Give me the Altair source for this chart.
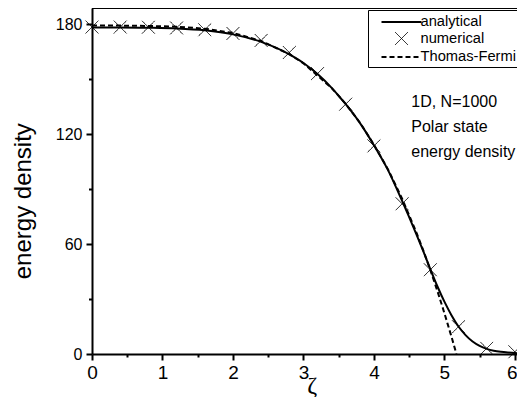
import altair as alt
import pandas as pd

# ---------------- data ----------------
x_ticks = [0, 0.5, 1, 1.5, 2, 2.5, 3, 3.5, 4, 4.5, 5, 5.5, 6]
y_ticks = [0, 30, 60, 90, 120, 150, 180]
x_max = 6.03
y_max = 188.9

series = ["analytical", "numerical", "Thomas-Fermi"]

ana_x = [0, 0.4, 0.8, 1.2, 1.6, 2.0, 2.4, 2.8, 3.0, 3.2, 3.4, 3.6, 3.8, 4.0, 4.2,
         4.4, 4.6, 4.7, 4.8, 4.9, 5.0, 5.1, 5.2, 5.3, 5.4, 5.5, 5.6, 5.7, 5.8, 5.9, 6.0, 6.03]
ana_y = [178.3, 178.3, 178.1, 177.7, 176.7, 174.5, 170.4, 163.6, 158.9, 152.8, 145.3,
         136.4, 126.2, 114.0, 100.4, 83.6, 65.6, 56.2, 46.4, 37.0, 28.6, 21.2, 15.0,
         10.3, 6.8, 4.4, 2.8, 1.8, 1.2, 0.8, 0.5, 0.45]

tf_x = [0, 0.4, 0.8, 1.2, 1.6, 2.0, 2.4, 2.8, 3.0, 3.2, 3.4, 3.6, 3.8, 4.0, 4.2,
        4.4, 4.6, 4.7, 4.8, 4.9, 5.0, 5.05, 5.1, 5.15, 5.17]
tf_y = [179.3, 179.3, 179.1, 178.7, 177.6, 175.3, 170.9, 163.7, 158.7, 152.0, 145.2,
        136.5, 126.4, 114.3, 100.8, 84.8, 66.6, 56.6, 45.9, 34.5, 22.3, 15.9, 9.5,
        2.8, 0.0]

num_x = [0, 0.4, 0.8, 1.2, 1.6, 2.0, 2.4, 2.8, 3.2, 3.6, 4.0, 4.4, 4.8, 5.2, 5.6, 6.0]
num_y = [178.5, 178.5, 178.4, 178.0, 177.0, 175.0, 171.2, 164.6, 153.1, 136.4,
         113.6, 82.0, 46.0, 14.9, 3.1, 1.2]

note_lines = ["1D, N=1000", "Polar state", "energy density"]
note_x = [4.53]
note_y = [134.9]

# ---------------- tables ----------------
ana_df = pd.DataFrame({"x": ana_x, "y": ana_y})
tf_df = pd.DataFrame({"x": tf_x, "y": tf_y})
num_df = pd.DataFrame({"x": num_x, "y": num_y, "series": ["numerical"] * len(num_x)})
note_df = pd.DataFrame({"x": note_x, "y": note_y, "t": ["\n".join(note_lines)]})
frame_df = pd.DataFrame({"x": [0], "x2": [x_max], "y": [y_max]})

FONT = "Liberation Sans"

xs = alt.Scale(domain=[0, x_max], nice=False, zero=False)
ys = alt.Scale(domain=[0, y_max], nice=False, zero=False)

common_axis = dict(
    grid=False, domainColor="black", domainWidth=2, tickColor="black", tickWidth=2,
    labelColor="black", labelFont=FONT, labelOverlap=False, labelFlush=False,
    titleColor="black",
)

x_axis = alt.Axis(
    orient="bottom", values=x_ticks, title="ζ",
    labelExpr="datum.value % 1 === 0 ? format(datum.value, 'd') : ''",
    tickSize={"condition": {"test": "datum.value % 1 === 0", "value": 6}, "value": 3},
    labelOffset={"condition": {"test": "datum.value === 6", "value": -3}, "value": 0},
    labelFontSize=19, labelPadding=3,
    titleFont="Liberation Serif", titleFontSize=24, titleFontWeight="normal",
    titleX=219.7, titleY=38.5, titleAlign="center", titleBaseline="alphabetic",
    **common_axis,
)

y_axis = alt.Axis(
    orient="left", values=y_ticks, title="energy density",
    labelExpr="datum.value % 60 === 0 ? format(datum.value, 'd') : ''",
    tickSize={"condition": {"test": "datum.value % 60 === 0", "value": 6}, "value": 3.5},
    labelFontSize=16, labelPadding=4,
    titleFont=FONT, titleFontSize=24, titleFontWeight="normal",
    titleAngle=270, titleX=-62, titleY=192.7, titleAlign="center",
    titleBaseline="alphabetic",
    **common_axis,
)


def X(field="x"):
    return alt.X(f"{field}:Q", scale=xs, axis=x_axis)


def Y(field="y"):
    return alt.Y(f"{field}:Q", scale=ys, axis=y_axis)


line_a = alt.Chart(ana_df).mark_line(
    color="black", strokeWidth=2, interpolate="monotone"
).encode(x=X(), y=Y())

line_tf = alt.Chart(tf_df).mark_line(
    color="black", strokeWidth=2, strokeDash=[5, 3]
).encode(x=X(), y=Y())

frame = alt.Chart(frame_df).mark_rule(color="black", strokeWidth=2).encode(
    x=X(), x2="x2:Q", y=Y()
)

shape_range = ["M-2.5,0L2.5,0", "M-0.8,-0.8L0.8,0.8M-0.8,0.8L0.8,-0.8", "M-2.5,0L2.5,0"]
leg = alt.Legend(title=None)

pts = alt.Chart(num_df).mark_point(
    color="black", filled=False, size=256, opacity=1
).encode(
    x=X(), y=Y(),
    shape=alt.Shape("series:N", scale=alt.Scale(domain=series, range=shape_range), legend=leg),
    strokeDash=alt.StrokeDash("series:N", scale=alt.Scale(domain=series, range=[[1, 0], [1, 0], [5, 3]]), legend=leg),
    strokeWidth=alt.StrokeWidth("series:N", scale=alt.Scale(type="ordinal", domain=series, range=[2, 1, 2]), legend=leg),
)

note = alt.Chart(note_df).mark_text(
    align="left", baseline="alphabetic", fontSize=16, font=FONT, lineBreak="\n",
    lineHeight=25, color="black"
).encode(x=X(), y=Y(), text="t:N")

chart = alt.layer(line_a, line_tf, frame, pts, note).properties(
    width=425, height=346,
    padding={"left": 84, "top": 0, "right": 0, "bottom": 43},
    autosize=alt.AutoSizeParams(type="none"),
    background="white",
).configure_view(
    stroke=None
).configure_legend(
    orient="none", legendX=276, legendY=2, padding=3, rowPadding=1,
    symbolSize=256, symbolOffset=21.5, labelOffset=10,
    labelFont=FONT, labelFontSize=14.7, labelColor="black", labelLimit=300,
    strokeColor="black", fillColor="white", symbolStrokeColor="black",
)

chart.save("out.html", embed_options={"renderer": "svg", "actions": False})
